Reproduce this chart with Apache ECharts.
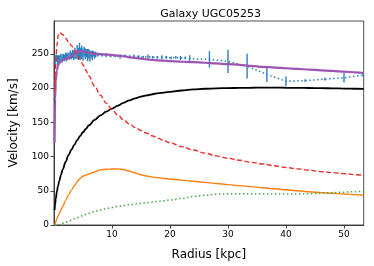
<!DOCTYPE html>
<html>
<head>
<meta charset="utf-8">
<script src="https://cdn.jsdelivr.net/npm/echarts@6/dist/echarts.min.js"></script>
<style>
html,body{margin:0;padding:0;background:#fff;}
#chart{width:374px;height:266px;}
</style>
</head>
<body>
<div id="chart"></div>
<script>
// ---- data ----
const titleText = 'Galaxy UGC05253';
const xTicks = [10, 20, 30, 40, 50];
const yTicks = [0, 50, 100, 150, 200, 250];

// observed rotation curve (dense inner part, middle part, sparse outer part)
const rDense = [0.2,0.4,0.6,0.8,1.0,1.2,1.4,1.6,1.8,2.0,2.2,2.4,2.6,2.8,3.0,3.2,3.4,3.6,3.8,4.0,4.2,4.4,4.6,4.8,5.0,5.2,5.4,5.6,5.8,6.0,6.2,6.4,6.6,6.8,7.0,7.2];
const vDense = [241,244,240,243,242,245,243,246,244,247,245,248,246,249,247,250,248,251,249,253,250,254,251,252,249,253,250,251,248,250,247,249,248,250,248,249];
const eDense = [7,5,8,5,6,5,6,4,5,5,6,4,5,6,5,6,7,8,6,10,9,12,8,10,9,7,8,6,9,7,8,5,7,4,5,4];
const rMid = [7.6,8.3,9.0,9.8,10.6,11.4,12.2,13.0,13.8,14.6,15.4,16.2,17.0,17.8,18.6,19.4,20.2,21.0,21.8,22.6];
const vMid = [249,248,248,247,247,246,247,246,246,246,245,246,245,245,245,245,244,245,244,244];
const eMid = [3,2,3,2,2,3,2,2,3,2,2,3,2,2,3,2,2,2,3,2];
const rSparse = [23.4,26.8,30.0,33.3,36.7,40.0,43.3,46.7,50.0,53.3];
const vSparse = [243,242,239,232,220,210,211,213,215,219];
const eSparse = [5,12,17,18,11,7,2,2,7,2];

// model components on a common radius grid
const rModel = [0.1,0.2,0.3,0.5,0.7,0.9,1.2,1.5,2,2.5,3,3.5,4,4.5,5,5.5,6,7,8,9,10,11,12,13,14,15,16,17,18,19,20,22,24,26,28,30,32,34,36,38,40,42,44,46,48,50,52,53.4];
const vTotal = [120,185,210,226,233,237,239.5,241,242.5,244,246.5,249.5,253,254,253.5,252.5,251.5,250,249.5,249,248.5,247.5,246.5,245,244,243,242,241,240.5,240,239.5,238.5,238,237,236,235,234,232.5,231,230,229,228,227,226,225,224,223,222];
const vHalo = [22,30,38,49,57,64,73,81,92,102,110,117,124,130,135.5,140.5,145.5,153.5,160,165.5,170,174.5,178.5,182,185,187.5,189.5,191,192.5,193.5,194.5,196.5,198,199,199.6,200,200.3,200.5,200.6,200.6,200.5,200.3,200.1,199.9,199.6,199.3,199,198.8];
const vDisk = [195,220,238,262,276,281,280,278,273,267.5,262,256,249,242,234,226,218,203,189.5,178,168.5,160.5,153.5,147.5,142.5,138,134,130,126.5,123,120,114.5,109.5,105,101,97.5,94.5,91.5,89,86.5,84,82,80,78,76.5,75,73.5,72.5];
const vGas = [0,2,5,9,13,17,22,27,36,44,51,57,63,68,71.5,73,74.5,77.5,80.5,81.5,81.8,82,81,78.5,76,73.5,71.5,70,69,68,67.3,65.5,64,62.3,60.7,59,57.5,56,54.5,53,51.5,50,48.5,47.3,46.3,45.3,44.3,43.5];
const vBulge = [0,0,0,0,0.2,0.6,1.5,2.5,4,5.5,7,9,10.5,12.5,14,15.5,17,19.5,22,24,25.5,27,28.5,29.5,30.5,31.5,32.5,33.5,34.5,35.5,36.5,39,41.5,43.5,45,45.5,45.8,45.8,45.5,45.3,45.2,45.3,45.8,46.5,47.3,48,48.7,49];

// ---- build series data ----
const rObs = rDense.concat(rMid, rSparse);
const vObs = vDense.concat(vMid, vSparse);
const eObs = eDense.concat(eMid, eSparse);
const obsPairs = rObs.map((r, i) => [r, vObs[i]]);
const obsErr = rObs.map((r, i) => [r, vObs[i], eObs[i]]);
const pairs = (vals) => rModel.map((r, i) => [r, vals[i]]);

const FONT = 'DejaVu Sans';
const chart = echarts.init(document.getElementById('chart'), null, {renderer: 'canvas'});

const lineSeries = (data, color, width, type, z) => ({
  type: 'line', data: data, showSymbol: false, symbol: 'none',
  smooth: 0.35, smoothMonotone: 'x', clip: true, z: z,
  lineStyle: {color: color, width: width, type: type, cap: 'butt'},
  animation: false
});

chart.setOption({
  animation: false,
  backgroundColor: '#fff',
  title: {
    text: titleText, left: 205.6, top: 4, textAlign: 'center',
    textStyle: {fontFamily: FONT, fontSize: 11, fontWeight: 'normal', color: '#000'}
  },
  grid: {left: 47.5, right: 10.3, top: 21, bottom: 39.3, show: true, borderColor: '#222', borderWidth: 0.8, containLabel: false},
  xAxis: {
    type: 'value', min: 0, max: 53.4,
    name: 'Radius [kpc]', nameLocation: 'middle', nameGap: 24,
    nameTextStyle: {fontFamily: FONT, fontSize: 12, color: '#000'},
    axisLine: {show: true, onZero: false, lineStyle: {color: '#222', width: 0.8}},
    axisTick: {show: true, inside: false, length: 3.5, lineStyle: {color: '#222', width: 0.8}, customValues: xTicks},
    axisLabel: {fontFamily: FONT, fontSize: 9, color: '#000', margin: 5, customValues: xTicks},
    splitLine: {show: false}
  },
  yAxis: {
    type: 'value', min: 0, max: 298,
    name: 'Velocity [km/s]', nameLocation: 'middle', nameGap: 34, nameRotate: 90,
    nameTextStyle: {fontFamily: FONT, fontSize: 12, color: '#000'},
    axisLine: {show: true, onZero: false, lineStyle: {color: '#222', width: 0.8}},
    axisTick: {show: true, inside: false, length: 3.5, lineStyle: {color: '#222', width: 0.8}, customValues: yTicks},
    axisLabel: {fontFamily: FONT, fontSize: 9, color: '#000', margin: 5, customValues: yTicks},
    splitLine: {show: false}
  },
  series: [
    {
      type: 'custom', data: obsErr, z: 2, clip: true,
      renderItem: function (params, api) {
        const x = api.value(0), y = api.value(1), e = api.value(2);
        const p1 = api.coord([x, y - e]);
        const p2 = api.coord([x, y + e]);
        return {type: 'line', shape: {x1: p1[0], y1: p1[1], x2: p2[0], y2: p2[1]},
                style: {stroke: '#2f7fbf', lineWidth: 1.4}};
      }
    },
    {
      type: 'line', data: obsPairs, showSymbol: false, symbol: 'none', clip: true, z: 2,
      lineStyle: {color: '#2f7fbf', width: 1.5, type: [1.5, 2.5]}
    },
    lineSeries(pairs(vTotal), '#9c55b3', 2.2, 'solid', 3),
    lineSeries(pairs(vHalo), '#000000', 1.8, 'solid', 4),
    lineSeries(pairs(vDisk), '#ee2a2a', 1.4, [5, 2.5], 5),
    lineSeries(pairs(vGas), '#ff7f0e', 1.4, 'solid', 5),
    lineSeries(pairs(vBulge), '#44aa44', 1.5, [1.5, 2.5], 5)
  ]
});
</script>
</body>
</html>
